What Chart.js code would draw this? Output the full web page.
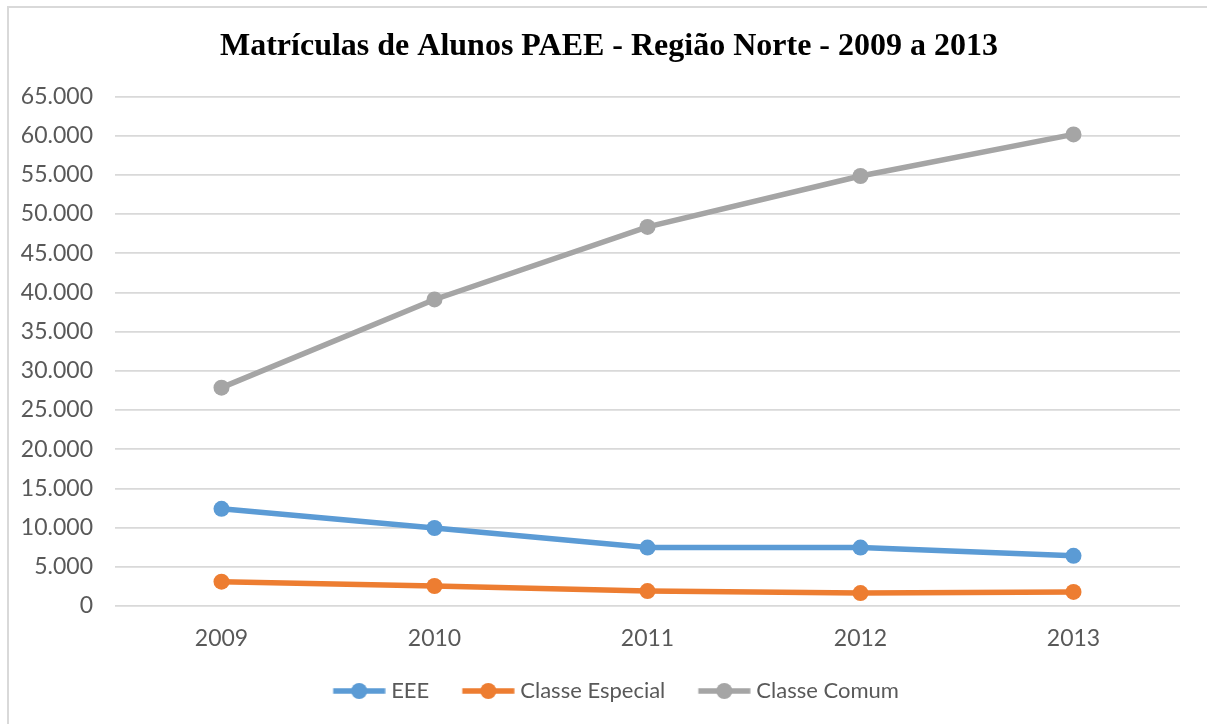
<!DOCTYPE html>
<html><head><meta charset="utf-8">
<script src="https://cdn.jsdelivr.net/npm/chart.js@4"></script>
<style>
html,body{margin:0;padding:0;background:#fff;overflow:hidden;}
#box{position:absolute;left:7px;top:6px;width:1204px;height:740px;border:2px solid #d9d9d9;background:#fff;}
#c{position:absolute;left:0;top:0;}
</style></head><body>
<div id="box"><canvas id="c" width="1200" height="704"></canvas></div>
<script>
const years = ['2009', '2010', '2011', '2012', '2013'];
const eee = [12400, 9950, 7450, 7450, 6400];
const especial = [3100, 2550, 1900, 1650, 1800];
const comum = [27850, 39100, 48350, 54850, 60150];
const seriesNames = ['EEE', 'Classe Especial', 'Classe Comum'];
const titleText = 'Matrículas de Alunos PAEE - Região Norte - 2009 a 2013';
const yMin = 0, yMax = 65000, yStep = 5000;

const colors = ['#5B9BD5', '#ED7D31', '#A5A5A5'];
const textFont = 'Lato, "Liberation Sans", sans-serif';
const axisFontSize = 23;
const legendFontSize = 22;

function legendIcon(color) {
  const cv = document.createElement('canvas');
  cv.width = 72; cv.height = 18;
  const g = cv.getContext('2d');
  g.strokeStyle = color; g.lineWidth = 5.5; g.lineCap = 'butt';
  g.beginPath(); g.moveTo(19.5, 9); g.lineTo(71.5, 9); g.stroke();
  g.fillStyle = color;
  g.beginPath(); g.arc(45.5, 9, 8, 0, Math.PI * 2); g.fill();
  return cv;
}
const icons = colors.map(legendIcon);

function fmt(v) {
  return String(v).replace(/\B(?=(\d{3})+(?!\d))/g, '.');
}

const seriesData = [eee, especial, comum];
const datasets = seriesNames.map((n, i) => ({
  label: n,
  data: seriesData[i],
  borderColor: colors[i],
  backgroundColor: colors[i],
  borderWidth: 5.5,
  pointRadius: 8,
  pointHoverRadius: 8,
  pointBorderWidth: 0,
  tension: 0,
  yAxisID: 'y'
}));

new Chart(document.getElementById('c'), {
  type: 'line',
  data: { labels: years, datasets },
  options: {
    responsive: false,
    animation: false,
    layout: { padding: { left: 0, right: 0, top: 0, bottom: 0 } },
    plugins: {
      title: {
        display: true,
        text: titleText,
        color: '#000',
        font: { family: '"Liberation Serif", "Times New Roman", serif', size: 32, weight: 'bold' },
        padding: { top: 20, bottom: 30 }
      },
      legend: {
        position: 'bottom',
        labels: {
          usePointStyle: true,
          pointStyleWidth: 61,
          boxHeight: 18,
          padding: 19,
          color: '#595959',
          font: { family: textFont, size: legendFontSize },
          generateLabels: (chart) => chart.data.datasets.map((d, i) => ({
            text: d.label,
            pointStyle: icons[i],
            fillStyle: colors[i],
            strokeStyle: colors[i],
            lineWidth: 0,
            hidden: false,
            datasetIndex: i,
            fontColor: '#595959'
          }))
        }
      },
      tooltip: { enabled: false }
    },
    scales: {
      x: {
        offset: true,
        afterFit: (s) => { s.height = 55; },
        grid: { display: false, drawTicks: false },
        border: { display: false },
        ticks: { color: '#595959', font: { family: textFont, size: axisFontSize }, padding: 19 }
      },
      y: {
        min: yMin, max: yMax,
        afterFit: (s) => { s.width = 106; },
        grid: { color: '#d9d9d9', lineWidth: 1.8, drawTicks: false },
        border: { display: false },
        ticks: {
          stepSize: yStep,
          color: '#595959',
          font: { family: textFont, size: axisFontSize },
          padding: 22,
          callback: (v) => fmt(v)
        }
      },
      yRight: {
        type: 'linear',
        position: 'right',
        min: yMin, max: yMax,
        afterFit: (s) => { s.width = 29; },
        grid: { display: false, drawTicks: false },
        border: { display: false },
        ticks: { display: false }
      }
    }
  }
});
</script>
</body></html>
